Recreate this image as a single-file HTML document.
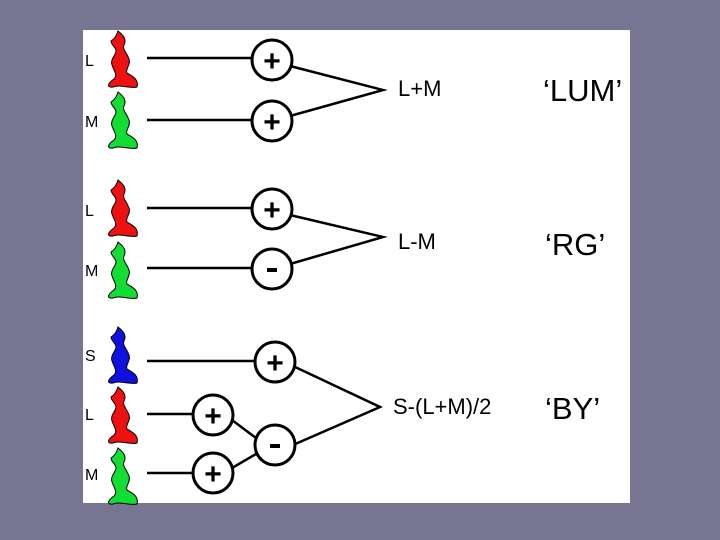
<!DOCTYPE html>
<html><head><style>
body{margin:0;background:#787593;}
svg{display:block}
</style></head><body>
<svg width="720" height="540" viewBox="0 0 720 540">
<rect width="720" height="540" fill="#787593"/>
<rect x="83" y="30" width="547" height="473" fill="#fff"/>
<defs>
<path id="cone" d="M13,0 C18,4 22,8 19,14 C17,18 22,22 24,28 C26,34 20,38 22,42 C27,45 34,48 32,56 C25,58 15,53 8,56 C1,57 3,52 9,48 C13,44 9,40 7,34 C5,28 11,24 11,20 C11,16 6,14 6,10 C9,8 11,6 13,0Z"/>
</defs>
<g stroke="#000" stroke-width="1">
<use href="#cone" x="105" y="31" fill="#ee1111"/>
<use href="#cone" x="105" y="92" fill="#11dd33"/>
<use href="#cone" x="105" y="180" fill="#ee1111"/>
<use href="#cone" x="105" y="242" fill="#11dd33"/>
<use href="#cone" x="105" y="327" fill="#1111dd"/>
<use href="#cone" x="105" y="387" fill="#ee1111"/>
<use href="#cone" x="105" y="448" fill="#11dd33"/>
</g>
<g font-family="Liberation Sans, sans-serif" font-size="16" fill="#000">
<text x="85" y="66">L</text><text x="85" y="127">M</text>
<text x="85" y="216">L</text><text x="85" y="276">M</text>
<text x="85" y="361">S</text><text x="85" y="420">L</text><text x="85" y="480">M</text>
</g>
<g stroke="#000" stroke-width="2.5" fill="none">
<line x1="147" y1="58" x2="254" y2="58"/>
<line x1="147" y1="120" x2="254" y2="120"/>
<line x1="147" y1="208" x2="254" y2="208"/>
<line x1="147" y1="268" x2="254" y2="268"/>
<line x1="147" y1="361" x2="254" y2="361"/>
<line x1="147" y1="414" x2="193" y2="414"/>
<line x1="147" y1="473" x2="193" y2="473"/>
<polyline points="290,66 383,90 290,116"/>
<polyline points="290,215 383,237 290,264"/>
<polyline points="293,366 380,407 293,445"/>
<line x1="232" y1="420" x2="256" y2="438"/>
<line x1="232" y1="468" x2="256" y2="454"/>
</g>
<g stroke="#000" stroke-width="3" fill="#fff">
<circle cx="272" cy="60" r="20"/>
<circle cx="272" cy="121" r="20"/>
<circle cx="272" cy="209" r="20"/>
<circle cx="272" cy="269" r="20"/>
<circle cx="275" cy="362" r="20"/>
<circle cx="275" cy="445" r="20"/>
<circle cx="213" cy="415" r="20"/>
<circle cx="213" cy="473" r="20"/>
</g>
<g font-family="Liberation Sans, sans-serif" font-weight="bold" font-size="30" text-anchor="middle" fill="#000">
<text x="272" y="71">+</text><text x="272" y="132">+</text>
<text x="272" y="220">+</text>
<text x="275" y="373">+</text>
<text x="213" y="426">+</text><text x="213" y="484">+</text>
</g>
<rect x="267" y="268" width="10" height="4" fill="#000"/>
<rect x="270" y="444" width="10" height="4" fill="#000"/>
<g font-family="Liberation Sans, sans-serif" fill="#000">
<text x="398" y="96" font-size="22">L+M</text>
<text x="398" y="249" font-size="22">L-M</text>
<text x="393" y="414" font-size="22">S-(L+M)/2</text>
<text x="543" y="101" font-size="31">‘LUM’</text>
<text x="545" y="255" font-size="31">‘RG’</text>
<text x="545" y="419" font-size="31">‘BY’</text>
</g>
</svg>
</body></html>
